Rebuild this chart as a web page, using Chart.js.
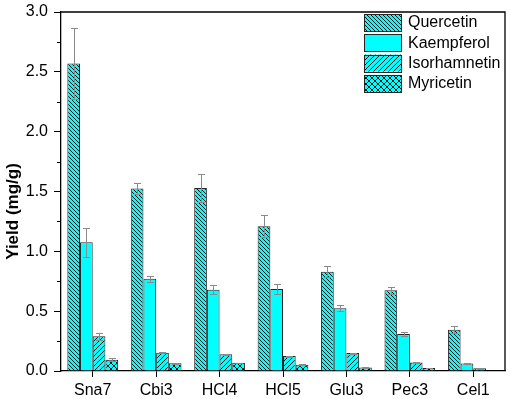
<!DOCTYPE html>
<html lang="en">
<head>
<meta charset="UTF-8">
<title>Yield (mg/g)</title>
<script src="https://cdn.jsdelivr.net/npm/chart.js"></script>
<style>
  html, body { margin: 0; padding: 0; background: #fff; }
  #caixa { width: 510px; height: 399px; }
</style>
</head>
<body>
<div id="caixa"><canvas id="grafico"></canvas></div>
<script>
// dados
const categorias = ['Sna7', 'Cbi3', 'HCl4', 'HCl5', 'Glu3', 'Pec3', 'Cel1'];
const series = ['Quercetin', 'Kaempferol', 'Isorhamnetin', 'Myricetin'];

const quercetin = [2.57, 1.525, 1.53, 1.21, 0.83, 0.675, 0.345];
const quercetinErr = [0.295, 0.045, 0.115, 0.09, 0.045, 0.03, 0.03];

const kaempferol = [1.075, 0.77, 0.68, 0.685, 0.525, 0.31, 0.063];
const kaempferolErr = [0.12, 0.025, 0.035, 0.045, 0.025, 0.015, 0.003];

const isorhamnetin = [0.29, 0.153, 0.14, 0.125, 0.15, 0.072, 0.022];
const isorhamnetinErr = [0.03, 0.004, 0.004, 0.004, 0.004, 0.003, 0.002];

const myricetin = [0.095, 0.064, 0.068, 0.053, 0.03, 0.025, 0];
const myricetinErr = [0.01, 0.003, 0.003, 0.003, 0.002, 0.002, 0];

const ticksY = [0, 0.5, 1.0, 1.5, 2.0, 2.5, 3.0];

const ciano = '#00ffff';
const fonte = 'Arial, "Liberation Sans", sans-serif';

// padrões de hachura
function hachura(tipo) {
    const s = tipo === 'cruz' ? 6 : (tipo === 'barra' ? 5 : 4);
    const c = document.createElement('canvas');
    c.width = s; c.height = s;
    const g = c.getContext('2d');
    g.fillStyle = ciano;
    g.fillRect(0, 0, s, s);
    g.strokeStyle = '#000';
    g.lineWidth = 0.9;
    function linha(x1, y1, x2, y2) { g.beginPath(); g.moveTo(x1, y1); g.lineTo(x2, y2); g.stroke(); }
    if (tipo === 'contra' || tipo === 'cruz') {
        linha(-1, -1, s + 1, s + 1);
        linha(-1, s - 1, 1, s + 1);
        linha(s - 1, -1, s + 1, 1);
    }
    if (tipo === 'barra' || tipo === 'cruz') {
        linha(-1, s + 1, s + 1, -1);
        linha(-1, 1, 1, -1);
        linha(s - 1, s + 1, s + 1, s - 1);
    }
    return g.createPattern(c, 'repeat');
}

const preenchimentos = [hachura('contra'), ciano, hachura('barra'), hachura('cruz')];
const valores = [quercetin, kaempferol, isorhamnetin, myricetin];
const erros = [quercetinErr, kaempferolErr, isorhamnetinErr, myricetinErr];

const dados = {
    labels: categorias,
    datasets: series.map(function (nome, i) {
        return {
            label: nome,
            data: valores[i],
            erros: erros[i],
            backgroundColor: preenchimentos[i],
            borderColor: '#2a2222',
            borderWidth: 1,
            categoryPercentage: 0.8,
            barPercentage: 1.0
        };
    })
};

// barras de erro
const pluginErros = {
    id: 'erros',
    afterDatasetsDraw(chart) {
        const ctx = chart.ctx;
        const y = chart.scales.y;
        ctx.save();
        ctx.strokeStyle = '#8a8a8a';
        ctx.lineWidth = 1;
        chart.data.datasets.forEach(function (ds, i) {
            const meta = chart.getDatasetMeta(i);
            meta.data.forEach(function (barra, j) {
                const v = ds.data[j];
                const e = ds.erros[j];
                if (!v) return;
                const x = Math.round(barra.x) + 0.5;
                const yAlto = Math.round(y.getPixelForValue(v + e)) + 0.5;
                const yBaixo = Math.round(y.getPixelForValue(v - e)) + 0.5;
                ctx.beginPath();
                ctx.moveTo(x, yAlto); ctx.lineTo(x, yBaixo);
                ctx.moveTo(x - 3.5, yAlto); ctx.lineTo(x + 3.5, yAlto);
                ctx.moveTo(x - 3.5, yBaixo); ctx.lineTo(x + 3.5, yBaixo);
                ctx.stroke();
            });
        });
        ctx.restore();
    }
};

// moldura, ticks menores, título do eixo e legenda
const pluginMoldura = {
    id: 'moldura',
    afterDraw(chart) {
        const ctx = chart.ctx;
        const a = chart.chartArea;
        const y = chart.scales.y;
        ctx.save();
        ctx.strokeStyle = '#000';
        ctx.lineWidth = 1.3;
        ctx.beginPath();
        ctx.moveTo(a.left, a.top); ctx.lineTo(a.right, a.top); ctx.lineTo(a.right, a.bottom);
        ctx.stroke();

        // ticks menores
        ctx.lineWidth = 1;
        for (let k = 0; k < ticksY.length - 1; k++) {
            const py = Math.round(y.getPixelForValue((ticksY[k] + ticksY[k + 1]) / 2)) + 0.5;
            ctx.beginPath();
            ctx.moveTo(a.left - 4, py); ctx.lineTo(a.left, py);
            ctx.stroke();
        }

        // título do eixo y
        ctx.fillStyle = '#000';
        ctx.font = 'bold 17px ' + fonte;
        ctx.textAlign = 'center';
        ctx.textBaseline = 'middle';
        ctx.translate(13, (a.top + a.bottom) / 2 + 20);
        ctx.rotate(-Math.PI / 2);
        ctx.fillText('Yield (mg/g)', 0, 0);
        ctx.restore();

        // legenda
        ctx.save();
        ctx.font = '16px ' + fonte;
        ctx.textBaseline = 'middle';
        ctx.fillStyle = '#000';
        chart.data.datasets.forEach(function (ds, i) {
            const lx = a.right - 141;
            const ly = a.top + 2 + i * 20.3;
            ctx.fillStyle = ds.backgroundColor;
            ctx.fillRect(lx, ly, 37, 17);
            ctx.strokeStyle = '#2a2222';
            ctx.lineWidth = 1;
            ctx.strokeRect(Math.round(lx) + 0.5, Math.round(ly) + 0.5, 37, 17);
            ctx.fillStyle = '#000';
            ctx.fillText(ds.label, lx + 44, ly + 9);
        });
        ctx.restore();
    }
};

new Chart(document.getElementById('grafico'), {
    type: 'bar',
    data: dados,
    options: {
        responsive: true,
        maintainAspectRatio: false,
        animation: false,
        devicePixelRatio: 1,
        layout: { padding: { top: 2, right: 5, left: 0, bottom: 0 } },
        plugins: {
            legend: { display: false },
            tooltip: { enabled: false }
        },
        scales: {
            x: {
                offset: true,
                grid: { offset: false, drawOnChartArea: false, tickLength: 6, color: '#000', tickColor: '#000' },
                border: { color: '#000', width: 1.3 },
                ticks: { color: '#000', font: { family: fonte, size: 16 }, padding: 4 },
                afterFit: function (s) { s.height = 28; }
            },
            y: {
                min: 0,
                max: 3,
                grid: { drawOnChartArea: false, tickLength: 7, color: '#000', tickColor: '#000' },
                border: { color: '#000', width: 1.3 },
                ticks: {
                    stepSize: 0.5,
                    color: '#000',
                    font: { family: fonte, size: 16, lineHeight: 0.75 },
                    padding: 6,
                    callback: function (v) { return ticksY.includes(v) ? v.toFixed(1) : ''; }
                },
                afterFit: function (s) { s.width = 61; }
            }
        }
    },
    plugins: [pluginErros, pluginMoldura]
});
</script>
</body>
</html>
